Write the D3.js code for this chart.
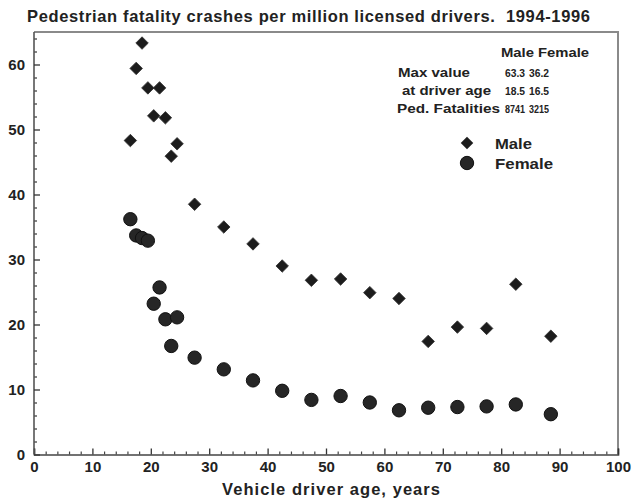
<!DOCTYPE html>
<html><head><meta charset="utf-8">
<script src="https://cdn.jsdelivr.net/npm/d3@7"></script>
<style>
html,body{margin:0;padding:0;background:#fff;}
svg text{font-family:"Liberation Sans",Arial,Helvetica,sans-serif;font-weight:bold;fill:#222;}
</style></head>
<body>
<svg id="chart" width="634" height="503"></svg>
<script>
const ages = [16.5,17.5,18.5,19.5,20.5,21.5,22.5,23.5,24.5,27.5,32.5,37.5,42.5,47.5,52.5,57.5,62.5,67.5,72.5,77.5,82.5,88.5];
const maleRate = [48.3,59.4,63.3,56.4,52.1,56.4,51.8,45.9,47.8,38.5,35.0,32.4,29.0,26.8,27.0,24.9,24.0,17.4,19.6,19.4,26.2,18.2];
const femaleRate = [36.2,33.7,33.3,32.9,23.2,25.7,20.8,16.7,21.1,14.9,13.1,11.4,9.8,8.4,9.0,8.0,6.8,7.2,7.3,7.4,7.7,6.2];
const xMajorTicks = [0,10,20,30,40,50,60,70,80,90,100];
const yMajorTicks = [0,10,20,30,40,50,60];
const titleText = "Pedestrian fatality crashes per million licensed drivers.  1994-1996";
const xLabel = "Vehicle driver age, years";
const statRows = ["Max value", " at driver age", "Ped. Fatalities"];
const statMale = ["63.3", "18.5", "8741"];
const statFemale = ["36.2", "16.5", "3215"];
const seriesNames = ["Male", "Female"];

const svg = d3.select("#chart");
const x = d3.scaleLinear().domain([0,100]).range([34,618]);
const y = d3.scaleLinear().domain([0,65]).range([454.5,32]);

// frame (top & right)
svg.append("path")
  .attr("d", `M${x(0)},${y(65)}H${x(100)}V${y(0)}`)
  .attr("fill","none").attr("stroke","#8a8a8a").attr("stroke-width",2);

const xMinor = d3.range(0,101,2).filter(v => v%10 !== 0);
const yMinor = d3.range(0,65,2).filter(v => v%10 !== 0);

const gx = svg.append("g").attr("transform",`translate(0,${y(0)})`);
gx.call(d3.axisBottom(x).tickValues(xMinor).tickSize(-3).tickFormat(""));
gx.selectAll(".tick line").attr("stroke","#444").attr("stroke-width",1.2);
gx.select(".domain").remove();
const gx2 = svg.append("g").attr("transform",`translate(0,${y(0)})`);
gx2.call(d3.axisBottom(x).tickValues(xMajorTicks).tickSize(-6).tickPadding(7).tickFormat(d3.format("d")));
gx2.selectAll(".tick line").attr("stroke","#333").attr("stroke-width",1.3);
gx2.selectAll(".tick text").attr("font-size",15).attr("fill","#222").attr("dy","0.9em").attr("y",4);
gx2.select(".domain").attr("stroke","#444").attr("stroke-width",1.6);

const gy = svg.append("g").attr("transform",`translate(${x(0)},0)`);
gy.call(d3.axisLeft(y).tickValues(yMinor).tickSize(-3).tickFormat(""));
gy.selectAll(".tick line").attr("stroke","#444").attr("stroke-width",1.3);
gy.select(".domain").remove();
const gy2 = svg.append("g").attr("transform",`translate(${x(0)},0)`);
gy2.call(d3.axisLeft(y).tickValues(yMajorTicks).tickSize(-6).tickPadding(9).tickFormat(d3.format("d")));
gy2.selectAll(".tick line").attr("stroke","#333").attr("stroke-width",1.3);
gy2.selectAll(".tick text").attr("font-size",15).attr("fill","#222");
gy2.select(".domain").attr("stroke","#555").attr("stroke-width",1.6).attr("d",`M0,${y(0)}V${y(65)}`);

// title
svg.append("text").attr("x",27).attr("y",21.5).attr("font-size",16.5)
  .attr("textLength",563).attr("lengthAdjust","spacing").style("white-space","pre").text(titleText);
// x label
svg.append("text").attr("x",222).attr("y",495).attr("font-size",16.5)
  .attr("textLength",218).attr("lengthAdjust","spacing").text(xLabel);

// data
const diamond = d3.symbol(d3.symbolSquare, 78);
const circle = d3.symbol(d3.symbolCircle, 140);
svg.append("g").selectAll("path").data(ages.map((a,i)=>[a,maleRate[i]])).join("path")
  .attr("d", diamond)
  .attr("transform", d=>`translate(${x(d[0])},${y(d[1])}) rotate(45)`)
  .attr("fill","#1c1c1c").attr("stroke","#333").attr("stroke-width",0.8);
svg.append("g").selectAll("path").data(ages.map((a,i)=>[a,femaleRate[i]])).join("path")
  .attr("d", circle)
  .attr("transform", d=>`translate(${x(d[0])},${y(d[1])})`)
  .attr("fill","#262626").attr("stroke","#111").attr("stroke-width",1);

// stats table
const tg = svg.append("g");
tg.append("text").attr("x",501).attr("y",57).attr("font-size",13.5).attr("textLength",33).attr("lengthAdjust","spacingAndGlyphs").text(seriesNames[0]);
tg.append("text").attr("x",538).attr("y",57).attr("font-size",13.5).attr("textLength",51).attr("lengthAdjust","spacingAndGlyphs").text(seriesNames[1]);
const rowY = [77,95,113];
const rowX = [398,402,397];
const rowW = [72,89,103];
statRows.forEach((r,i)=>{
  tg.append("text").attr("x",rowX[i]).attr("y",rowY[i]).attr("font-size",13)
    .attr("textLength",rowW[i]).attr("lengthAdjust","spacingAndGlyphs").text(r.trim());
  tg.append("text").attr("x",505).attr("y",rowY[i]).attr("font-size",11.5)
    .attr("textLength",20).attr("lengthAdjust","spacingAndGlyphs").text(statMale[i]);
  tg.append("text").attr("x",529).attr("y",rowY[i]).attr("font-size",11.5)
    .attr("textLength",20).attr("lengthAdjust","spacingAndGlyphs").text(statFemale[i]);
});

// legend
const lg = svg.append("g");
lg.append("path").attr("d", diamond).attr("transform","translate(467,143) rotate(45)").attr("fill","#1c1c1c");
lg.append("path").attr("d", circle).attr("transform","translate(467,163)").attr("fill","#262626").attr("stroke","#111");
lg.append("text").attr("x",495).attr("y",148.5).attr("font-size",15.5).attr("textLength",37).attr("lengthAdjust","spacingAndGlyphs").text(seriesNames[0]);
lg.append("text").attr("x",495).attr("y",168.5).attr("font-size",15.5).attr("textLength",58).attr("lengthAdjust","spacingAndGlyphs").text(seriesNames[1]);
</script>
</body></html>
